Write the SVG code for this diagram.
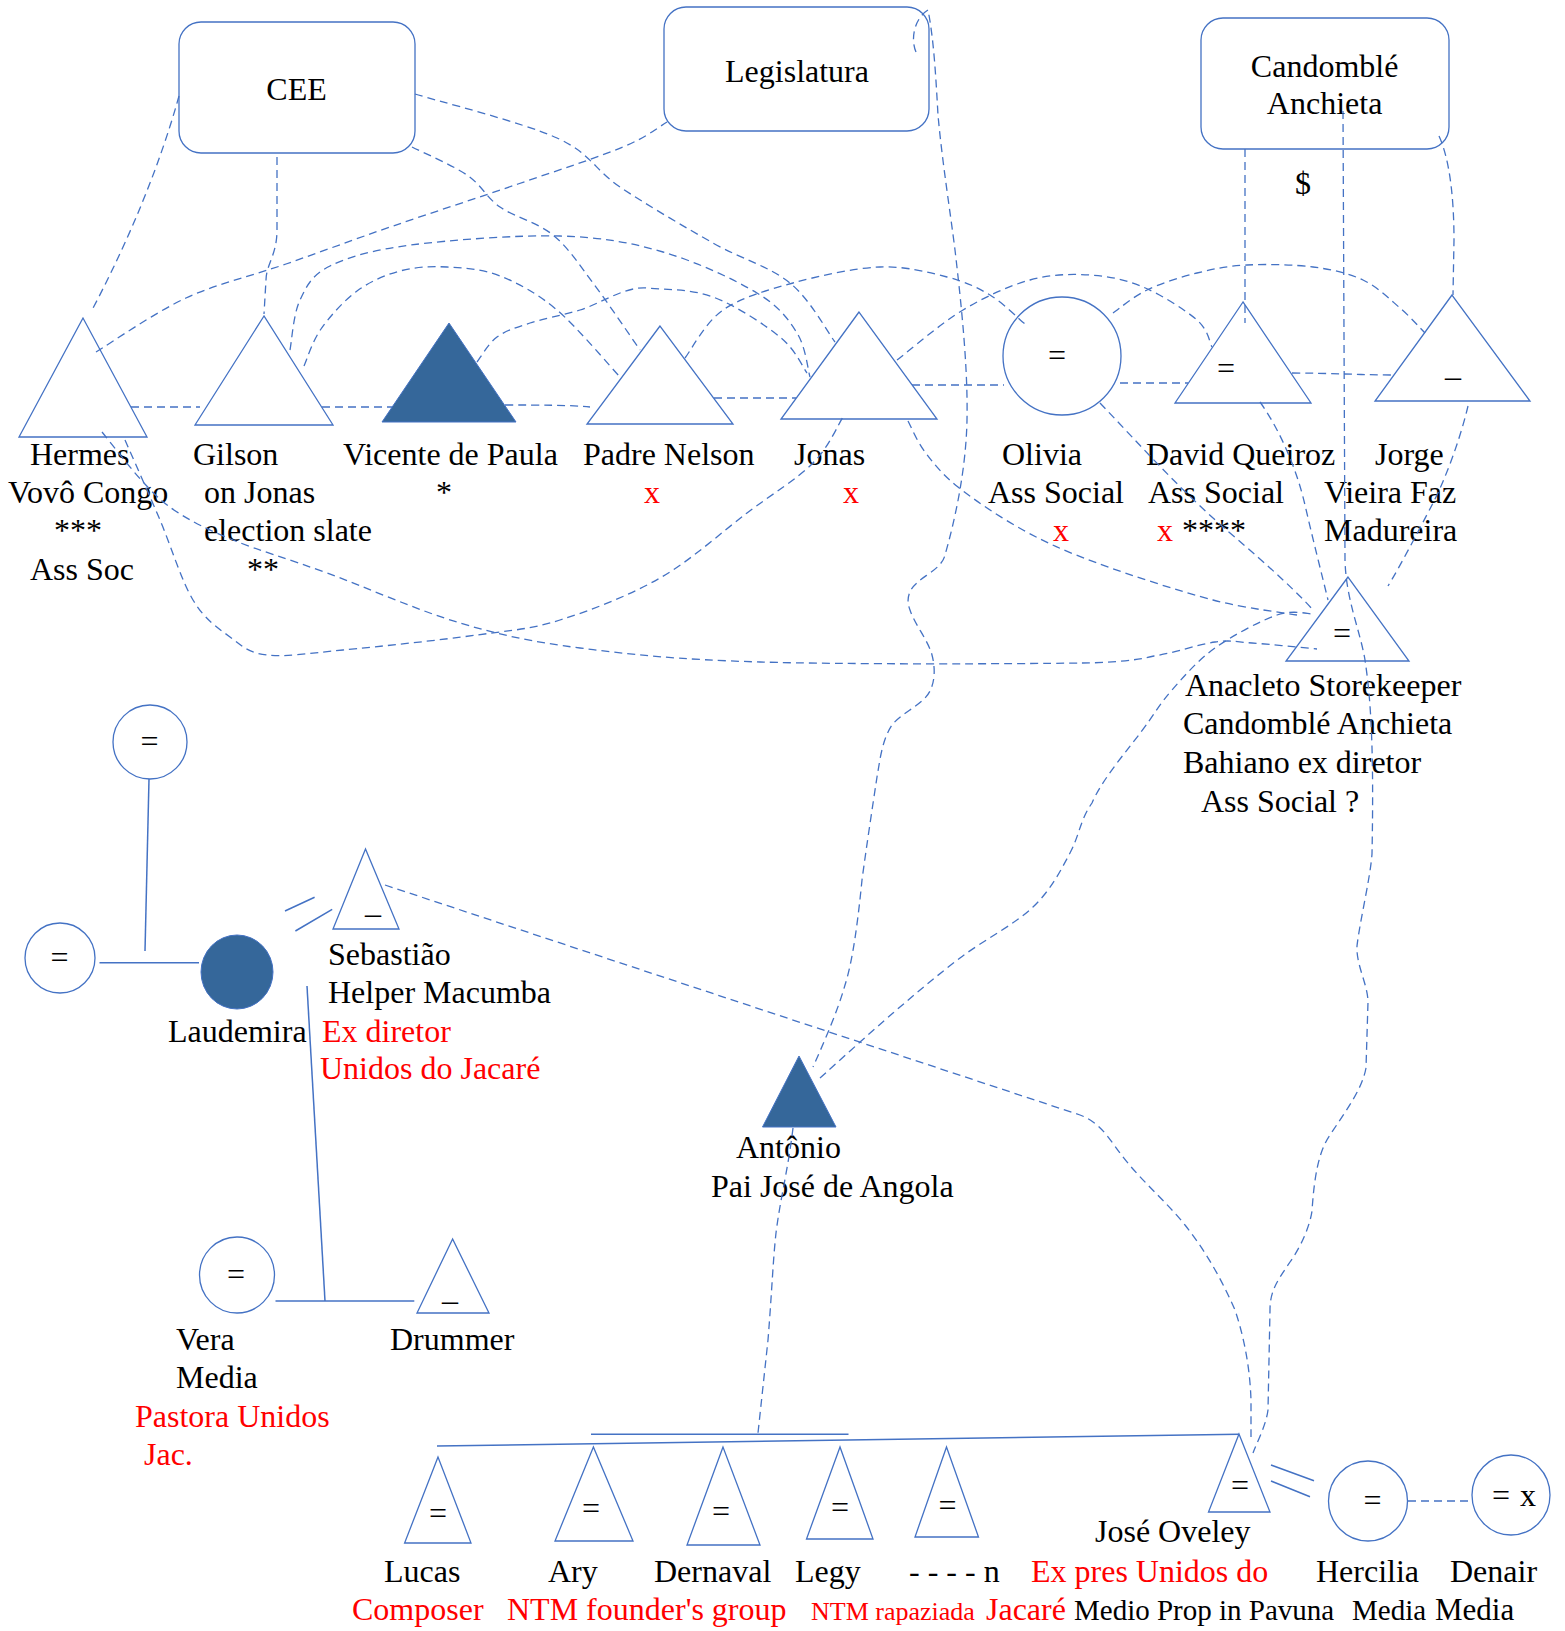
<svg xmlns="http://www.w3.org/2000/svg" width="1565" height="1631" viewBox="0 0 1565 1631">
<style>
.t{font-family:"Liberation Serif","Times New Roman",serif;font-size:32px;fill:#000}
.r{fill:#FF0000}
.m{text-anchor:middle}
.eq{font-size:32px;text-anchor:middle}
.sh{fill:#fff;stroke:#4472C4;stroke-width:1.3}
.f{fill:#35679A;stroke:#4472C4;stroke-width:1}
.d{fill:none;stroke:#4472C4;stroke-width:1.3;stroke-dasharray:8 5}
.s{fill:none;stroke:#4472C4;stroke-width:1.5}
</style>
<rect width="1565" height="1631" fill="#fff"/>
<g id="cee"><rect class="sh" x="179" y="22" width="236" height="131" rx="22"/><text class="t m" x="296.5" y="100">CEE</text></g>
<g id="legislatura"><rect class="sh" x="664" y="7" width="265" height="124" rx="22"/><text class="t m" x="797" y="81.5">Legislatura</text></g>
<g id="candomble"><rect class="sh" x="1201" y="18" width="248" height="131" rx="22"/><text class="t m" x="1324.6" y="76.5">Candomblé</text><text class="t m" x="1324.6" y="113.7">Anchieta</text></g>
<g id="hermes"><polygon class="sh" points="83,318 19,437 147,437"/><text class="t" x="30" y="465">Hermes</text><text class="t" x="8" y="503">Vovô Congo</text><text class="t" x="54" y="541">***</text><text class="t" x="30" y="580">Ass Soc</text></g>
<g id="gilson"><polygon class="sh" points="264,316 195,425 333,425"/><text class="t" x="193" y="465">Gilson</text><text class="t" x="204" y="503">on Jonas</text><text class="t" x="204" y="541">election slate</text><text class="t" x="247" y="580">**</text></g>
<g id="vicente"><polygon class="f" points="449,323 382,422 516,422"/><text class="t" x="343" y="465">Vicente de Paula</text><text class="t" x="436" y="503">*</text></g>
<g id="padre-nelson"><polygon class="sh" points="660,326 587,424 733,424"/><text class="t" x="583" y="465">Padre Nelson</text><text class="t r" x="644" y="503">x</text></g>
<g id="jonas"><polygon class="sh" points="859,312 781,419 937,419"/><text class="t" x="794" y="465">Jonas</text><text class="t r" x="843" y="503">x</text></g>
<g id="olivia"><circle class="sh" cx="1062" cy="356" r="59"/><text class="t eq" x="1057" y="366">=</text><text class="t" x="1002" y="465">Olivia</text><text class="t" x="988" y="503">Ass Social</text><text class="t r" x="1053" y="541">x</text></g>
<g id="david"><polygon class="sh" points="1243,302 1175,403 1311,403"/><text class="t eq" x="1226" y="379">=</text><text class="t" x="1146" y="465">David Queiroz</text><text class="t" x="1148" y="503">Ass Social</text><text class="t r" x="1157" y="541">x</text><text class="t" x="1182" y="541">****</text></g>
<g id="jorge"><polygon class="sh" points="1452,295 1375,401 1530,401"/><text class="t" x="1445" y="376">_</text><text class="t" x="1375" y="465">Jorge</text><text class="t" x="1324" y="503">Vieira Faz</text><text class="t" x="1324" y="541">Madureira</text></g>
<g id="anacleto"><polygon class="sh" points="1348,577 1286,661 1409,661"/><text class="t eq" x="1342" y="644">=</text><text class="t" x="1185" y="696">Anacleto Storekeeper</text><text class="t" x="1183" y="734">Candomblé Anchieta</text><text class="t" x="1183" y="773">Bahiano ex diretor</text><text class="t" x="1201" y="812">Ass Social ?</text></g>
<g id="dollar"><text class="t m" x="1303" y="194">$</text></g>
<g id="parent-top"><circle class="sh" cx="150" cy="742" r="37"/><text class="t eq" x="149.5" y="752">=</text></g>
<g id="parent-left"><circle class="sh" cx="60" cy="958" r="35"/><text class="t eq" x="59.5" y="968">=</text></g>
<g id="laudemira"><ellipse class="f" cx="237" cy="972" rx="36" ry="37"/><text class="t" x="168" y="1042">Laudemira</text></g>
<g id="sebastiao"><polygon class="sh" points="365.5,849 333,929 399,929"/><text class="t" x="365" y="913">_</text><text class="t" x="328" y="965">Sebastião</text><text class="t" x="328" y="1003">Helper Macumba</text><text class="t r" x="322" y="1042">Ex diretor</text><text class="t r" x="320" y="1079">Unidos do Jacaré</text></g>
<g id="vera"><ellipse class="sh" cx="237" cy="1275" rx="37.5" ry="38"/><text class="t eq" x="236" y="1285">=</text><text class="t" x="176" y="1350">Vera</text><text class="t" x="176" y="1388">Media</text><text class="t r" x="135" y="1427">Pastora Unidos</text><text class="t r" x="144" y="1465">Jac.</text></g>
<g id="drummer"><polygon class="sh" points="452.6,1239 417,1313 489,1313"/><text class="t" x="442" y="1300">_</text><text class="t" x="390" y="1350">Drummer</text></g>
<g id="antonio"><polygon class="f" points="799,1056 762.5,1127 836,1127"/><text class="t" x="736" y="1158">Antônio</text><text class="t" x="711" y="1197">Pai José de Angola</text></g>
<g id="lucas"><polygon class="sh" points="438,1457 404.6,1543 471,1543"/><text class="t eq" x="438" y="1524">=</text><text class="t" x="384" y="1582">Lucas</text><text class="t r" x="352" y="1620">Composer</text></g>
<g id="ary"><polygon class="sh" points="593.4,1447 555,1541 633,1541"/><text class="t eq" x="591" y="1519">=</text><text class="t" x="548" y="1582">Ary</text><text class="t r" x="507" y="1620">NTM founder's group</text></g>
<g id="dernaval"><polygon class="sh" points="723,1447 687,1545 760,1545"/><text class="t eq" x="721" y="1522">=</text><text class="t" x="654" y="1582">Dernaval</text></g>
<g id="legy"><polygon class="sh" points="840,1447 806.5,1539 873,1539"/><text class="t eq" x="840" y="1518">=</text><text class="t" x="795" y="1582">Legy</text><text class="t r" x="811" y="1620" style="font-size:26px">NTM rapaziada</text></g>
<g id="n-sibling"><polygon class="sh" points="946.5,1447 915,1537 978.5,1537"/><text class="t eq" x="947.5" y="1516">=</text><text class="t" x="909" y="1582">- - - - n</text></g>
<g id="jose-oveley"><polygon class="sh" points="1239,1434 1208.5,1512 1270,1512"/><text class="t eq" x="1240" y="1496">=</text><text class="t" x="1095" y="1542">José Oveley</text><text class="t r" x="1031" y="1582">Ex pres Unidos do</text><text class="t r" x="986" y="1620">Jacaré</text><text class="t" x="1074" y="1620" style="font-size:29px">Medio Prop in Pavuna</text></g>
<g id="hercilia"><ellipse class="sh" cx="1368" cy="1501" rx="39.5" ry="40"/><text class="t eq" x="1372.5" y="1511">=</text><text class="t" x="1316" y="1582">Hercilia</text><text class="t" x="1352" y="1620" style="font-size:29px">Media</text></g>
<g id="denair"><ellipse class="sh" cx="1511" cy="1495" rx="39" ry="40"/><text class="t" y="1506"><tspan x="1492">=</tspan><tspan x="1520">x</tspan></text><text class="t" x="1450" y="1582">Denair</text><text class="t" x="1435" y="1620" style="font-size:31px">Media</text></g>
<g id="connectors">
<path class="s" d="M149,779 L145,951"/>
<path class="s" d="M99.5,962.7 L199,962.7"/>
<path class="s" d="M285,911 L314.6,897.3 M295.4,931 L332.2,909.3"/>
<path class="s" d="M307,986 L325,1301"/>
<path class="s" d="M275.5,1301 L414.3,1301"/>
<path class="s" d="M437,1446 L1239,1434.3"/>
<path class="s" d="M591,1434.3 L848.5,1434.3"/>
<path class="s" d="M1271,1465 L1314,1480.7 M1271,1481 L1310,1496.7"/>
<path class="d" d="M179,96 Q150,200 91,312"/>
<path class="d" d="M277,157 L277,230 C277,255 266,265 266,280 L264,314"/>
<path class="d" d="M415,94 C438.7,101.3 522.8,122.5 557,138 C591.2,153.5 594,169.5 620,187 C646,204.5 684.7,227 713,243 C741.3,259 769.7,266.5 790,283 C810.3,299.5 827.5,332.2 835,342"/>
<path class="d" d="M412,147 C421.2,151.7 452.3,165 467,175 C481.7,185 485.7,197 500,207 C514.3,217 537.5,222.3 553,235 C568.5,247.7 578.5,263.8 593,283 C607.5,302.2 632.2,338.8 640,350"/>
<path class="d" d="M96,352 C111,343 154.3,312.7 186,298 C217.7,283.3 251.5,276 286,264 C320.5,252 354.3,239.3 393,226 C431.7,212.7 479.7,197.2 518,184 C556.3,170.8 598.2,157.3 623,147 C647.8,136.7 659.7,126.2 667,122"/>
<path class="d" d="M290,350 C291.7,341.7 293.3,314 300,300 C306.7,286 311.5,275.2 330,266 C348.5,256.8 372.7,250 411,245 C449.3,240 518,234.8 560,236 C602,237.2 630.2,242.5 663,252 C695.8,261.5 734.7,279.5 757,293 C779.3,306.5 788.2,319 797,333 C805.8,347 807.8,369.7 810,377"/>
<path class="d" d="M304,366 C306.8,359.8 312.2,341.5 321,329 C329.8,316.5 343.8,300.7 357,291 C370.2,281.3 385,275 400,271 C415,267 430.3,266.2 447,267 C463.7,267.8 481.7,268.8 500,276 C518.3,283.2 537,293.2 557,310 C577,327 609.5,365.8 620,377"/>
<path class="d" d="M477,362 C480.3,357.8 488.2,343.5 497,337 C505.8,330.5 516.2,327.5 530,323 C543.8,318.5 560.5,315.8 580,310 C599.5,304.2 624.8,286 647,288 C669.2,290 690.8,288.8 713,297 C735.2,305.2 764.3,324.3 780,337 C795.7,349.7 802.5,367 807,373"/>
<path class="d" d="M685,358 C691.3,350 705,322.5 723,310 C741,297.5 766.8,290.2 793,283 C819.2,275.8 854.3,268 880,267 C905.7,266 928.7,272.3 947,277 C965.3,281.7 977,287.2 990,295 C1003,302.8 1019.2,319.2 1025,324"/>
<path class="d" d="M897,360 C908,351.7 940.8,323.3 963,310 C985.2,296.7 1008.8,285.8 1030,280 C1051.2,274.2 1071.2,273.8 1090,275 C1108.8,276.2 1125.2,279.5 1143,287 C1160.8,294.5 1185.5,310 1197,320 C1208.5,330 1209.5,342.5 1212,347"/>
<path class="d" d="M1113,313 C1118.7,309.2 1133,296.7 1147,290 C1161,283.3 1180.3,277.2 1197,273 C1213.7,268.8 1227.7,266 1247,265 C1266.3,264 1293.7,264.5 1313,267 C1332.3,269.5 1348.5,273.2 1363,280 C1377.5,286.8 1389.7,299.2 1400,308 C1410.3,316.8 1420.8,328.8 1425,333"/>
<path class="d" d="M125,440 C130.8,453.3 148.7,493.3 160,520 C171.3,546.7 181.3,580.5 193,600 C204.7,619.5 217.7,627.8 230,637 C242.3,646.2 248.2,652.8 267,655 C285.8,657.2 308,653.3 343,650 C378,646.7 440.8,640 477,635 C513.2,630 529.5,629.5 560,620 C590.5,610.5 628.8,595.8 660,578 C691.2,560.2 721.5,532.2 747,513 C772.5,493.8 797,479 813,463 C829,447 838,424.7 843,417"/>
<path class="d" d="M102,432 C108.8,440.3 130.5,468.7 143,482 C155.5,495.3 162,502.3 177,512 C192,521.7 208,529.8 233,540 C258,550.2 289.2,559.2 327,573 C364.8,586.8 417.8,610.5 460,623 C502.2,635.5 530,641.5 580,648 C630,654.5 676.7,659.5 760,662 C843.3,664.5 1014.3,664 1080,663 C1105,663 1135,661 1154,656 C1176.5,652.5 1198.7,644.2 1215,642 C1231.3,639.8 1235,641.8 1252,643 C1269,644.2 1306.2,648 1317,649"/>
<path class="d" d="M908,421 C910.8,426.2 916.7,441 925,452 C933.3,463 941.7,474 958,487 C974.3,500 999.8,517.3 1023,530 C1046.2,542.7 1065.3,551.3 1097,563 C1128.7,574.7 1179.7,591.3 1213,600 C1246.3,608.7 1283,612.5 1297,615"/>
<path class="d" d="M1100,403 C1140,445 1180,490 1230,533 C1270,567 1300,595 1313,610"/>
<path class="d" d="M1260,402 C1280,430 1297,470 1305,505 C1313,540 1322,575 1328,600"/>
<path class="d" d="M1468,406 C1460,440 1445,480 1432,505 C1419,530 1398,570 1388,586"/>
<path class="d" d="M1245,149 L1245,323"/>
<path class="d" d="M1343,111 L1345,560 C1346,600 1360,630 1365,660 C1371,700 1374,750 1372,854 C1370,880 1360,920 1357,946 C1356,965 1368,985 1368,1002 L1366,1068 C1362,1090 1345,1112 1330,1135 C1318,1152 1314,1180 1312,1211 C1310,1225 1302,1245 1290,1262 C1278,1280 1270,1290 1270,1310 L1268,1410 C1266,1425 1258,1440 1253,1453"/>
<path class="d" d="M1439,136 C1450,160 1454,200 1454,240 L1453,295"/>
<path class="d" d="M916,52 C910,38 915,18 928,10 C934,40 936,80 938,115 C942,160 950,210 955,250 C962,310 968,370 967,420 C966,470 955,520 945,555 C942,568 925,575 918,582 C908,590 906,600 910,610 C915,625 928,640 932,655 C936,670 935,688 925,698 C915,708 900,715 892,725 C882,740 880,760 877,777 C872,810 866,850 862,880 C858,920 853,960 845,985 C838,1010 825,1040 813,1067"/>
<path class="d" d="M820,1078 C832.2,1067.2 869.7,1033 893,1013 C916.3,993 936.7,975.7 960,958 C983.3,940.3 1014.7,924.5 1033,907 C1051.3,889.5 1060.5,870.8 1070,853 C1079.5,835.2 1080,820 1092,803 C1101.8,779.8 1127.3,750.3 1141,732 C1154.7,713.7 1159.7,704 1172,690 C1184.3,676 1197.5,660.5 1215,648 C1232.5,635.5 1260.5,620.7 1277,615 C1293.5,609.3 1307.8,614.2 1314,614"/>
<path class="d" d="M385,885 L1080,1115 C1100,1122 1110,1140 1120,1153 C1140,1180 1165,1200 1185,1225 C1205,1250 1222,1280 1235,1310 C1245,1340 1250,1370 1251,1400 L1251,1437"/>
<path class="d" d="M793,1128 C788,1170 780,1200 776,1233 C773,1260 772,1290 768,1340 L758,1433"/>
<path class="d" d="M1408,1501 L1472,1501"/>
<path class="d" d="M131,407 L200,407"/>
<path class="d" d="M322,407 L392,407"/>
<path class="d" d="M505,405 C540,405 570,405 590,407"/>
<path class="d" d="M714,398 L796,398"/>
<path class="d" d="M912,385 L1004,385"/>
<path class="d" d="M1120,383 L1188,383"/>
<path class="d" d="M1292,373 C1330,373 1360,375 1394,375"/>
</g>
</svg>
